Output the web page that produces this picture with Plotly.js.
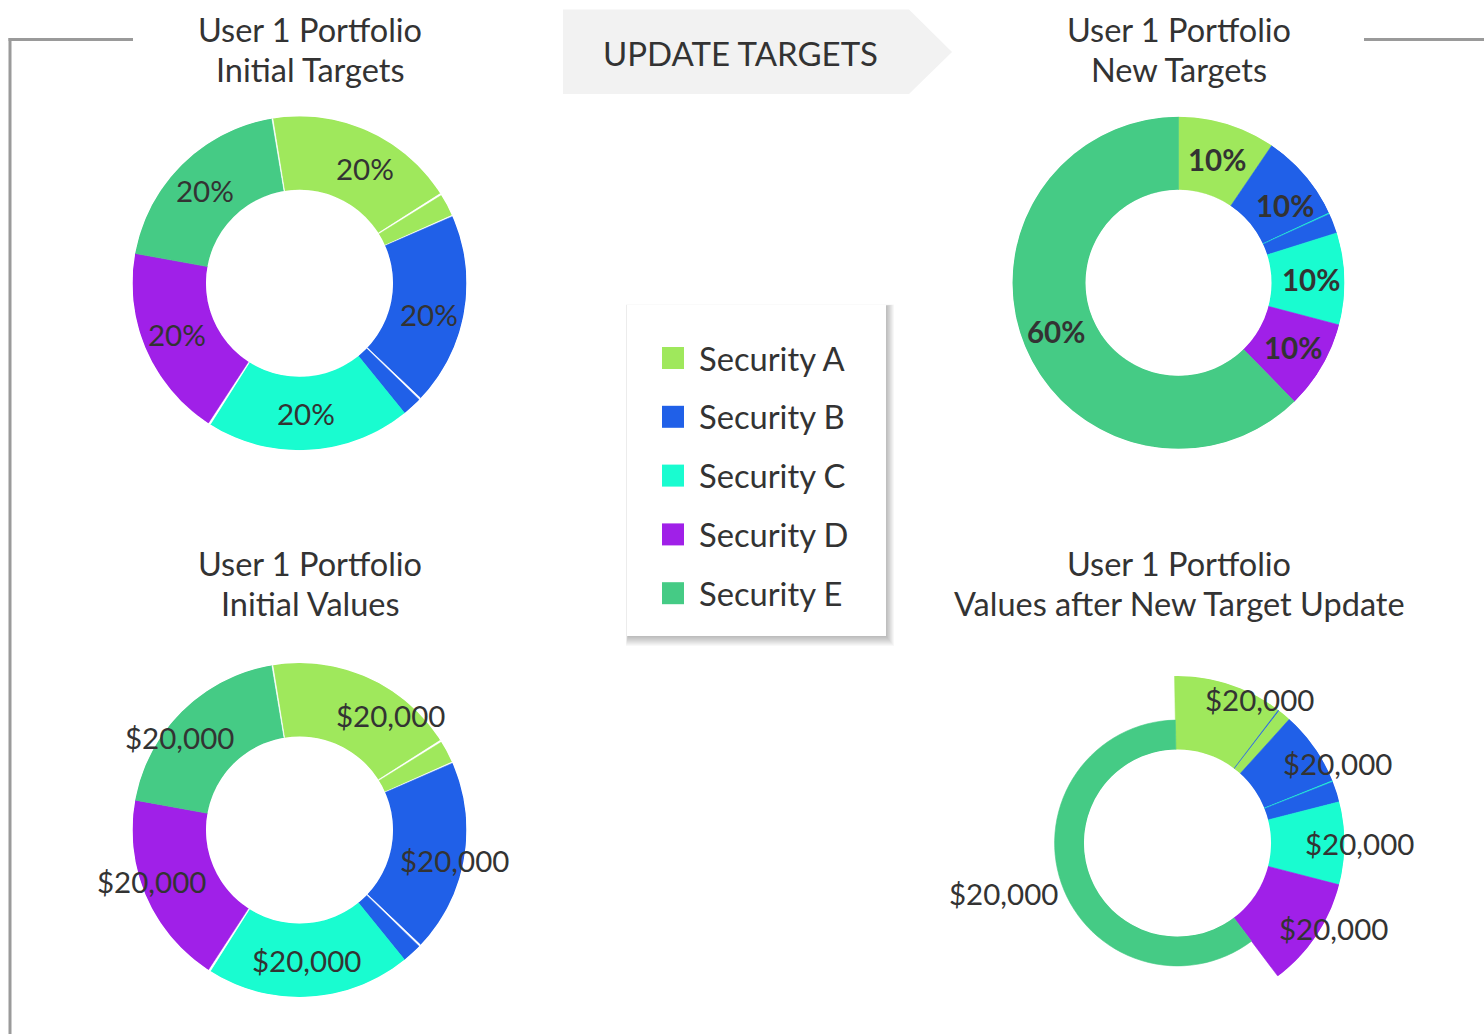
<!DOCTYPE html>
<html>
<head>
<meta charset="utf-8">
<script src="https://cdn.plot.ly/plotly-3.0.1.min.js"></script>
<style>
  html, body { margin: 0; padding: 0; background: #ffffff; }
  #chart { width: 1484px; height: 1034px; }
</style>
</head>
<body>
<div id="chart"></div>
<script>
// ================= DATA =================
const securities = ['Security A', 'Security B', 'Security C', 'Security D', 'Security E'];
const securityColors = ['#9FE85C', '#2060E8', '#19FCD0', '#A020E8', '#45CB85'];
const gapColor = '#FFFFFF';

// Initial targets / initial values donuts: arc share of each slice (degrees of 360),
// the security each slice counts toward, and its tint (5 = white gap)
const initArc   = [66.7, 0.7, 7.8, 0.4, 67.1, 0.7, 6.8, 71.3, 0.8, 67.2, 70.2, 0.3];
const initGroup = [0,    0,   0,   0,   1,    1,   1,   2,    2,   3,    4,    4  ];
const initTint  = [0,    5,   0,   5,   1,    5,   1,   2,    5,   3,    4,    5  ];
const initTargetLabels = ['20%', '20%', '20%', '20%', '20%'];
const initValueLabels  = ['$20,000', '$20,000', '$20,000', '$20,000', '$20,000'];

// New targets donut
const newArc   = [34.2, 30.9, 0.4, 7.0, 32.2, 31.0, 224.3];
const newGroup = [0,    1,    1,   1,   2,    3,    4    ];
const newTint  = [0,    1,    2,   1,   2,    3,    4    ];
const newTargetLabels = ['10%', '10%', '10%', '10%', '60%'];

// Values after new target update donut (ring = relative outer extent of each slice)
const updArc   = [38.2, 0.4, 4.5, 26.0, 0.4, 7.2, 28.8, 38.5, 216.0];
const updGroup = [0,    0,   0,   1,    1,   1,   2,    3,    4    ];
const updTint  = [0,    1,   0,   1,    2,   1,   2,    3,    4    ];
const updRing  = [1,    1,   1,   1,    1,   1,   1,    1,    0.40 ];
const updValueLabels = ['$20,000', '$20,000', '$20,000', '$20,000', '$20,000'];

const titleLine1 = ['User 1 Portfolio', 'User 1 Portfolio', 'User 1 Portfolio', 'User 1 Portfolio'];
const titleLine2 = ['Initial Targets', 'New Targets', 'Initial Values', 'Values after New Target Update'];
const buttonText = 'UPDATE TARGETS';

// ================= LAYOUT / STYLE =================
const W = 1484, H = 1034;
const FONT = 'Lato, "Open Sans", sans-serif';
const TXT = '#333333';
const HOLE = 0.56;
const px = x => x / W;
const py = y => 1 - y / H;

const donuts = [
  {id: 'polar',  cx: 299.5,  cy: 283.3, R: 167, start: -9.2, arc: initArc, group: initGroup, tint: initTint, ring: null,
   labels: initTargetLabels, bold: false, labelR: 0.78, tx: 310,  ty: 30},
  {id: 'polar2', cx: 1178.5, cy: 282.8, R: 166, start: 0,    arc: newArc,  group: newGroup,  tint: newTint,  ring: null,
   labels: newTargetLabels, bold: true, labelR: 0.78, tx: 1179, ty: 30},
  {id: 'polar3', cx: 299.5,  cy: 830,   R: 167, start: -9.2, arc: initArc, group: initGroup, tint: initTint, ring: null,
   labels: initValueLabels, bold: false, labelR: 0.78, tx: 310,  ty: 563},
  {id: 'polar4', cx: 1177.5, cy: 843,   R: 167, start: -1,   arc: updArc,  group: updGroup,  tint: updTint,  ring: updRing,
   labels: updValueLabels, bold: false, labelR: 0.92, tx: 1179, ty: 563}
];

const palette = securityColors.concat([gapColor]);
const traces = [];
const annotations = [];
const shapes = [];
const layout = {
  width: W, height: H,
  margin: {l: 0, r: 0, t: 0, b: 0, pad: 0},
  paper_bgcolor: '#ffffff',
  showlegend: false,
  font: {family: FONT, color: TXT}
};

donuts.forEach((d, k) => {
  const total = d.arc.reduce((a, b) => a + b, 0);
  const widths = d.arc.map(v => v / total * 360);
  const mids = [];
  const starts = [];
  let cum = 0;
  widths.forEach(w => { starts.push(cum); mids.push(cum + w / 2); cum += w; });
  const colors = d.tint.map(t => palette[t]);
  traces.push({
    type: 'barpolar',
    subplot: d.id,
    theta: mids,
    width: widths,
    r: d.ring ? d.ring : widths.map(() => 1),
    marker: {color: colors, line: {color: colors, width: 0.6}},
    hoverinfo: 'skip',
    showlegend: false
  });
  layout[d.id] = {
    domain: {x: [px(d.cx - d.R), px(d.cx + d.R)], y: [py(d.cy + d.R), py(d.cy - d.R)]},
    hole: HOLE,
    bgcolor: 'rgba(0,0,0,0)',
    barmode: 'overlay',
    radialaxis: {visible: false, range: [0, 1]},
    angularaxis: {visible: false, rotation: 90 - d.start, direction: 'clockwise'}
  };
  // labels: middle of each security's span
  securities.forEach((s, si) => {
    let a0 = null, a1 = null;
    d.group.forEach((g, i) => {
      if (g === si) {
        if (a0 === null) a0 = starts[i];
        a1 = starts[i] + widths[i];
      }
    });
    if (a0 === null) return;
    const ang = (d.start + (a0 + a1) / 2) * Math.PI / 180;
    const rr = d.labelR * d.R;
    const ax = d.cx + rr * Math.sin(ang);
    const ay = d.cy - rr * Math.cos(ang);
    const sn = Math.sin(ang);
    let xanchor = 'center', xshift = 0;
    if (sn > 0.35) { xanchor = 'left'; xshift = -28; }
    else if (sn < -0.35) { xanchor = 'right'; xshift = 28; }
    annotations.push({
      xref: 'paper', yref: 'paper', x: px(ax), y: py(ay),
      xanchor: xanchor, yanchor: 'middle', xshift: xshift,
      text: d.bold ? '<b>' + d.labels[si] + '</b>' : d.labels[si],
      showarrow: false,
      font: {family: FONT, size: 29.5, color: TXT}
    });
  });
  [titleLine1[k], titleLine2[k]].forEach((t, li) => {
    annotations.push({
      xref: 'paper', yref: 'paper', x: px(d.tx), y: py(d.ty + li * 40),
      xanchor: 'center', yanchor: 'middle', align: 'center',
      text: t, showarrow: false,
      font: {family: FONT, size: 32.5, color: TXT}
    });
  });
});

// bracket lines
const gray = '#9A9A9A';
shapes.push({type: 'line', xref: 'paper', yref: 'paper', x0: px(8.5), x1: px(133), y0: py(39.5), y1: py(39.5), line: {color: gray, width: 3}});
shapes.push({type: 'line', xref: 'paper', yref: 'paper', x0: px(10), x1: px(10), y0: py(38), y1: py(1034), line: {color: gray, width: 3}});
shapes.push({type: 'line', xref: 'paper', yref: 'paper', x0: px(1364), x1: px(1484), y0: py(39.5), y1: py(39.5), line: {color: gray, width: 3}});

// update targets arrow
shapes.push({
  type: 'path', xref: 'paper', yref: 'paper',
  path: `M ${px(563)} ${py(9.5)} L ${px(909)} ${py(9.5)} L ${px(952)} ${py(52)} L ${px(909)} ${py(94)} L ${px(563)} ${py(94)} Z`,
  fillcolor: '#F2F2F2', line: {width: 0}
});
annotations.push({
  xref: 'paper', yref: 'paper', x: px(740.5), y: py(53), xanchor: 'center', yanchor: 'middle',
  text: buttonText, showarrow: false, font: {family: FONT, size: 33, color: TXT}
});

// legend box with soft shadow
const LB = {x0: 627, x1: 886, y0: 305, y1: 636};
for (let i = 10; i >= 1; i--) {
  shapes.push({type: 'rect', xref: 'paper', yref: 'paper',
    x0: px(LB.x0 - i * 0.2 + 1), x1: px(LB.x1 + i * 0.8), y0: py(LB.y1 + i * 1.0), y1: py(LB.y0 - i * 0.15 + 1),
    fillcolor: 'rgba(0,0,0,0.026)', line: {width: 0}});
}
shapes.push({type: 'rect', xref: 'paper', yref: 'paper',
  x0: px(LB.x0), x1: px(LB.x1), y0: py(LB.y1), y1: py(LB.y0), fillcolor: '#FFFFFF', line: {width: 0}});
securities.forEach((s, i) => {
  const yc = 358 + i * 58.8;
  shapes.push({type: 'rect', xref: 'paper', yref: 'paper',
    x0: px(662), x1: px(684), y0: py(yc + 11), y1: py(yc - 11),
    fillcolor: securityColors[i], line: {width: 0}});
  annotations.push({xref: 'paper', yref: 'paper', x: px(697), y: py(yc), xanchor: 'left', yanchor: 'middle',
    text: s, showarrow: false, font: {family: FONT, size: 32.7, color: TXT}});
});

layout.shapes = shapes;
layout.annotations = annotations;

Plotly.newPlot('chart', traces, layout, {staticPlot: true, displayModeBar: false});
</script>
</body>
</html>
